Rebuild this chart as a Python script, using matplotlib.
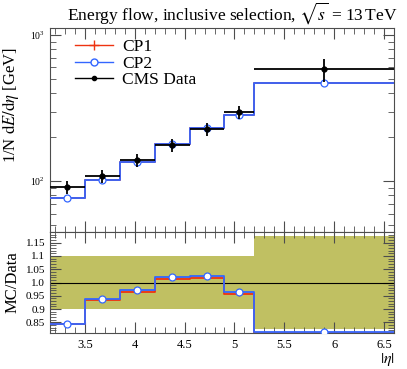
import numpy as np
import matplotlib
matplotlib.use("Agg")
import matplotlib.pyplot as plt
import matplotlib.lines as mlines
from matplotlib.ticker import MultipleLocator, LogLocator, NullFormatter

plt.rcParams['font.family'] = ['Liberation Serif', 'DejaVu Serif']
plt.rcParams['mathtext.fontset'] = 'stix'

# ---- data ----
edges = [3.15, 3.5, 3.85, 4.2, 4.55, 4.9, 5.2, 6.6]
data = [91.0, 108.7, 140.0, 176.5, 226.0, 297.0, 582.0]
data_err = [9.1, 10.9, 14.0, 17.7, 22.6, 29.7, 102.0]
cp1 = [76.9, 101.6, 135.1, 178.8, 230.1, 283.6, 471.0]
cp2 = [76.9, 102.1, 135.8, 179.9, 231.7, 285.9, 473.0]
cp1_err = [0.4, 0.5, 0.7, 0.9, 1.2, 1.5, 2.5]
xticks = [3.5, 4, 4.5, 5, 5.5, 6, 6.5]
xtick_labels = ['3.5', '4', '4.5', '5', '5.5', '6', '6.5']
rticks = [0.85, 0.9, 0.95, 1.0, 1.05, 1.1, 1.15]
rtick_labels = ['0.85', '0.9', '0.95', '1.0', '1.05', '1.1', '1.15']

edges_a = np.array(edges)
centers = 0.5 * (edges_a[:-1] + edges_a[1:])
halfw = 0.5 * (edges_a[1:] - edges_a[:-1])
data_a = np.array(data)
derr = np.array(data_err)
cp1_a = np.array(cp1)
cp2_a = np.array(cp2)

RED = '#EE3311'
BLUE = '#3366FF'
BAND = '#C0C062'
TICKC = '0.3'

fig = plt.figure(figsize=(4.07, 3.69), dpi=100)
L, R = 50 / 407, 394 / 407
ax = fig.add_axes([L, 1 - 232 / 369, R - L, (232 - 28) / 369])
axr = fig.add_axes([L, 1 - 333 / 369, R - L, (333 - 232) / 369], sharex=ax)

def step(a, vals, **kw):
    v = np.append(vals, vals[-1])
    a.step(edges_a, v, where='post', **kw)

# main panel
step(ax, cp1_a, color=RED, lw=1.3, zorder=3)
ax.errorbar(centers, cp1_a, yerr=cp1_err, fmt='none', ecolor=RED, elinewidth=1, zorder=3)
step(ax, cp2_a, color=BLUE, lw=1.3, zorder=4)
ax.plot(centers, cp2_a, 'o', ms=5, mfc='white', mec=BLUE, mew=0.9, zorder=5)
ax.errorbar(centers, data_a, xerr=halfw, yerr=derr, fmt='o', color='black',
            ms=3.5, elinewidth=1.3, capsize=0, zorder=6)

ax.set_yscale('log')
ax.set_ylim(45, 1117)
ax.set_xlim(3.15, 6.6)

l1 = mlines.Line2D([], [], color=RED, marker='+', ms=7, lw=1)
l2 = mlines.Line2D([], [], color=BLUE, marker='o', ms=5, mfc='white', lw=1)
l3 = mlines.Line2D([], [], color='black', marker='o', ms=3, lw=1)
ax.legend([l1, l2, l3], ['CP1', 'CP2', 'CMS Data'], loc='upper left',
          bbox_to_anchor=(0.04, 1.0), frameon=False, fontsize=12.5,
          handlelength=2.2, handletextpad=0.5, labelspacing=0.0, borderaxespad=0.25)

ax.set_ylabel(r'1/N $\mathrm{d}E/\mathrm{d}\eta$ [GeV]', fontsize=12)
ax.yaxis.set_label_coords(-0.085, 0.62)

for a in (ax, axr):
    for s in a.spines.values():
        s.set_color(TICKC)
    a.tick_params(which='both', direction='in', top=True, right=True, color=TICKC)
    a.tick_params(which='major', length=8, width=0.8)
    a.tick_params(which='minor', length=4, width=0.6)

ax.yaxis.set_major_locator(LogLocator(base=10, numticks=10))
ax.yaxis.set_minor_locator(LogLocator(base=10, subs=np.arange(2, 10), numticks=20))
ax.yaxis.set_minor_formatter(NullFormatter())
ax.tick_params(axis='y', labelsize=7)
ax.tick_params(axis='x', labelbottom=False)

ax.xaxis.set_major_locator(MultipleLocator(0.5))
ax.xaxis.set_minor_locator(MultipleLocator(0.1))

# ratio panel
rel = derr / data_a
axr.bar(centers, 2 * rel, bottom=1 - rel, width=2 * halfw, color=BAND, lw=0, zorder=1)
axr.axhline(1.0, color='black', lw=0.8, zorder=2)
step(axr, cp1_a / data_a, color=RED, lw=1.3, zorder=3)
axr.errorbar(centers, cp1_a / data_a, yerr=np.array(cp1_err) / data_a, fmt='none',
             ecolor=RED, elinewidth=1, zorder=3)
step(axr, cp2_a / data_a, color=BLUE, lw=1.3, zorder=4)
axr.plot(centers, cp2_a / data_a, 'o', ms=5, mfc='white', mec=BLUE, mew=0.9, zorder=5)

axr.set_ylim(0.81, 1.19)
axr.set_yticks(rticks)
axr.set_yticklabels(rtick_labels)
axr.yaxis.set_minor_locator(MultipleLocator(0.01))
axr.tick_params(axis='y', labelsize=8)
axr.set_xticks(xticks)
axr.set_xticklabels(xtick_labels)
axr.tick_params(axis='x', labelsize=9, pad=4)
axr.set_ylabel('MC/Data', fontsize=12)
axr.yaxis.set_label_coords(-0.085, 0.5)

fig.text(395 / 407, 1 - 359 / 369, r'$|\eta|$', ha='right', va='center', fontsize=11.5)

fig.text(397 / 407, 1 - 20 / 369, r'Energy flow, inclusive selection, $\sqrt{s}$ = 13$\,$TeV',
         ha='right', va='baseline', fontsize=12.5)

fig.savefig('out.png', dpi=100)
